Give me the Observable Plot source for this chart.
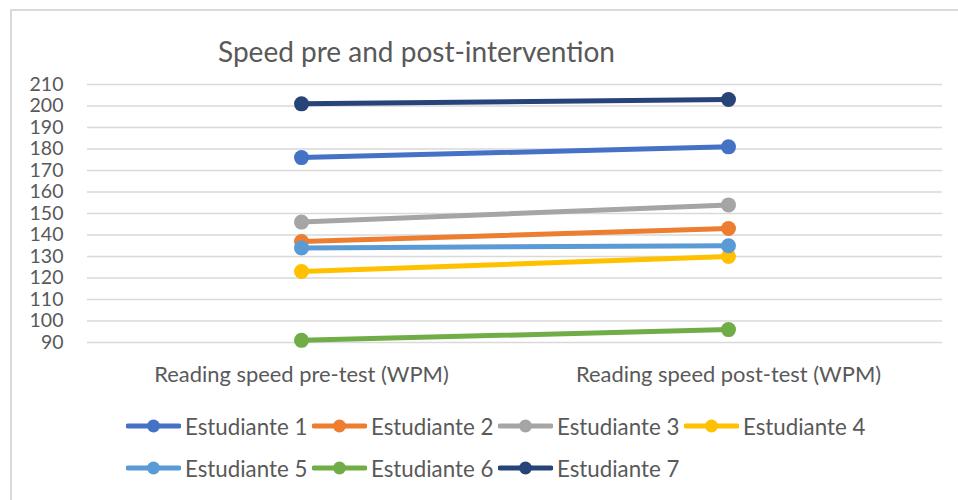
<!DOCTYPE html>
<html>
<head>
<meta charset="utf-8">
<script src="https://cdn.jsdelivr.net/npm/d3@7"></script>
<script src="https://cdn.jsdelivr.net/npm/@observablehq/plot@0.6"></script>
<style>
  html, body { margin: 0; padding: 0; background: #fff; }
  #wrap { position: relative; width: 958px; height: 500px; overflow: hidden; background: #fff; font-family: Lato, "Open Sans", sans-serif; color: #595959; }
  #frame { position: absolute; left: 10px; top: 9px; width: 1000px; height: 600px; border-top: 2px solid #d9d9d9; border-left: 2px solid #d9d9d9; }
  #title { position: absolute; left: 0; width: 833px; top: 31px; text-align: center; font-size: 28px; line-height: 40px; color: #595959; }
  #chart { position: absolute; left: 0; top: 0; }
  #legend { position: absolute; left: 126px; top: 405px; width: 780px; }
  .row { display: flex; height: 42px; align-items: center; }
  .item { display: flex; align-items: center; width: 186px; font-size: 22.3px; color: #595959; }
  .item svg { margin-right: 4px; flex: none; }
</style>
</head>
<body>
<div id="wrap">
  <div id="frame"></div>
  <div id="title">Speed pre and post-intervention</div>
  <div id="chart"></div>
  <div id="legend"></div>
</div>
<script>
const categories = ["Reading speed pre-test (WPM)", "Reading speed post-test (WPM)"];
const students = ["Estudiante 1", "Estudiante 2", "Estudiante 3", "Estudiante 4", "Estudiante 5", "Estudiante 6", "Estudiante 7"];
const preValues = [176, 137, 146, 123, 134, 91, 201];
const postValues = [181, 143, 154, 130, 135, 96, 203];
const colors = ["#4472C4", "#ED7D31", "#A5A5A5", "#FFC000", "#5B9BD5", "#70AD47", "#264478"];
const yTicks = [90, 100, 110, 120, 130, 140, 150, 160, 170, 180, 190, 200, 210];

const data = students.flatMap((s, i) => [
  {student: s, test: categories[0], wpm: preValues[i]},
  {student: s, test: categories[1], wpm: postValues[i]}
]);

const seriesMarks = students.flatMap(s => {
  const d = data.filter(r => r.student === s);
  return [
    Plot.line(d, {x: "test", y: "wpm", stroke: "student", strokeWidth: 5, strokeLinecap: "round"}),
    Plot.dot(d, {x: "test", y: "wpm", fill: "student", r: 7.5})
  ];
});

const chart = Plot.plot({
  width: 958,
  height: 400,
  marginLeft: 87,
  marginRight: 16,
  marginTop: 84,
  marginBottom: 58,
  style: {background: "transparent", fontFamily: "Lato, 'Open Sans', sans-serif", color: "#595959"},
  x: {type: "point", domain: categories, padding: 0.5, label: null},
  y: {domain: [90, 210], ticks: yTicks, label: null},
  color: {domain: students, range: colors},
  marks: [
    Plot.gridY(yTicks, {stroke: "#d9d9d9", strokeOpacity: 1, strokeWidth: 1.5}),
    Plot.axisY(yTicks, {tickSize: 0, tickPadding: 24, fontSize: 19.5, fill: "#595959", label: null}),
    Plot.axisX({tickSize: 0, tickPadding: 24, fontSize: 21.9, fill: "#595959", label: null}),
    ...seriesMarks
  ]
});
document.getElementById("chart").appendChild(chart);

// legend
const legend = document.getElementById("legend");
const rows = [students.slice(0, 4), students.slice(4)];
rows.forEach(rowItems => {
  const row = document.createElement("div");
  row.className = "row";
  rowItems.forEach(s => {
    const c = colors[students.indexOf(s)];
    const item = document.createElement("div");
    item.className = "item";
    item.innerHTML = `<svg width="55" height="16"><line x1="2" y1="8" x2="53" y2="8" stroke="${c}" stroke-width="5" stroke-linecap="round"/><circle cx="27.5" cy="8" r="6.5" fill="${c}"/></svg><span>${s}</span>`;
    row.appendChild(item);
  });
  legend.appendChild(row);
});
</script>
</body>
</html>
